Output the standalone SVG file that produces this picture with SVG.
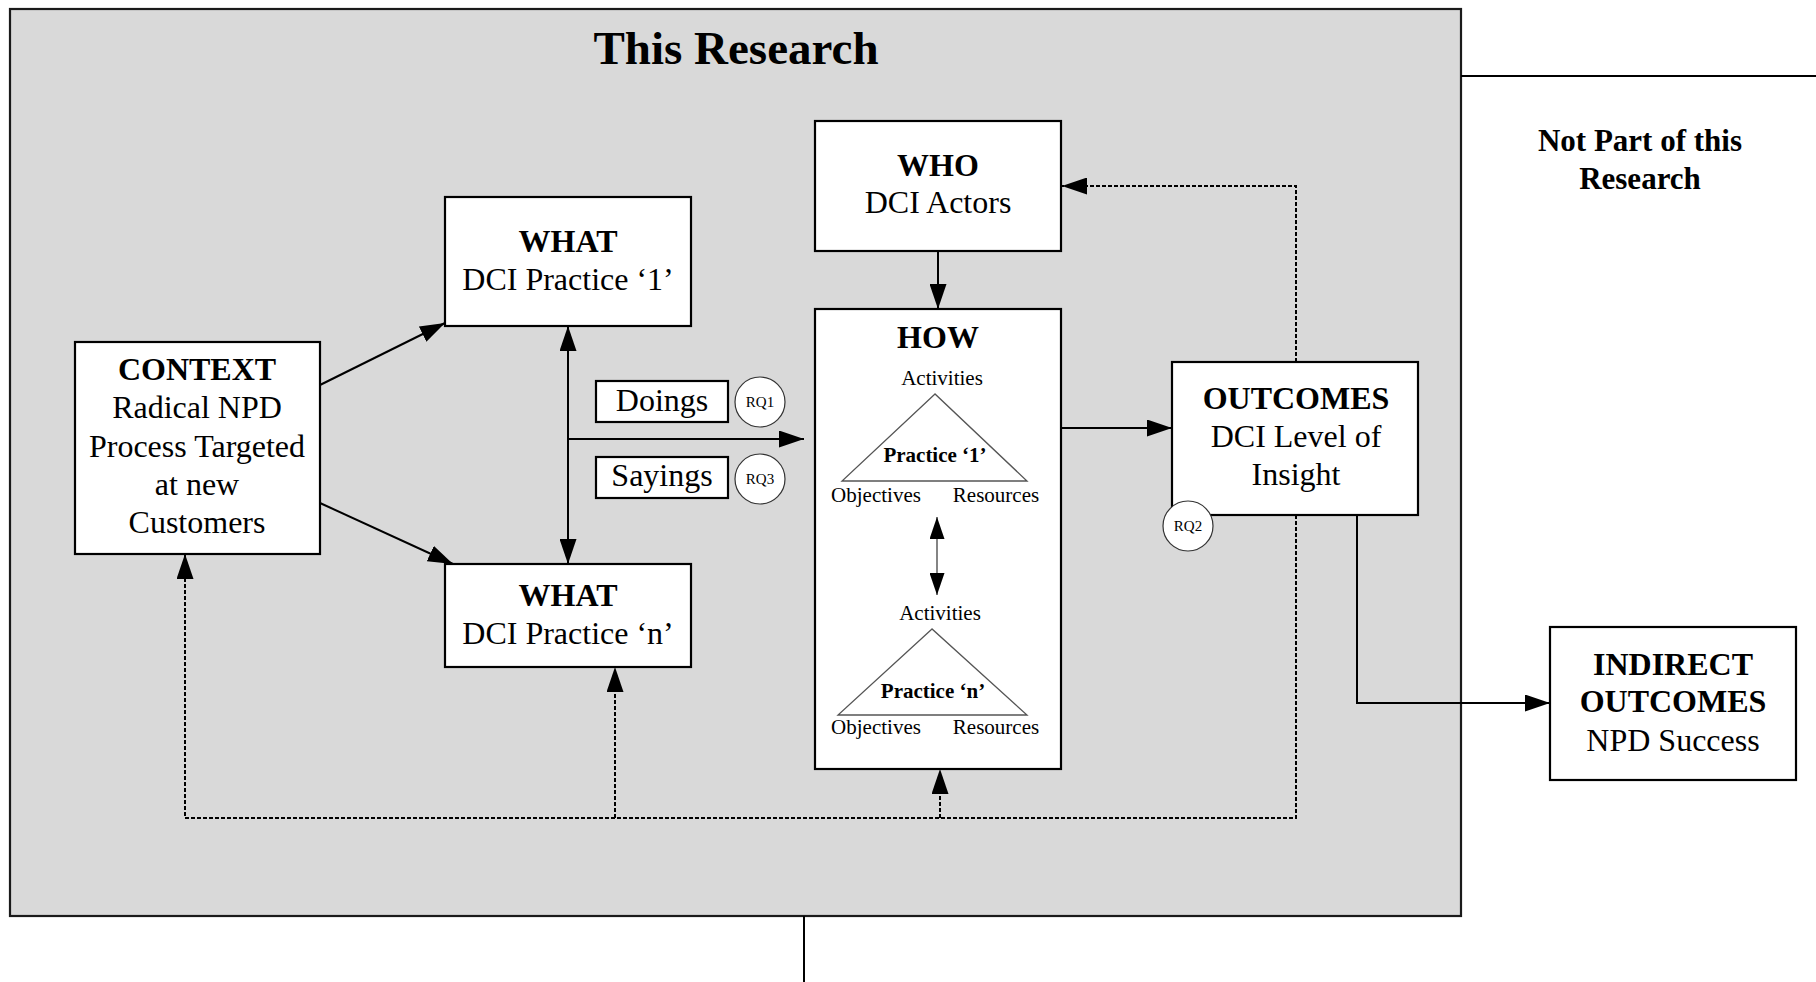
<svg xmlns="http://www.w3.org/2000/svg" width="1816" height="982" viewBox="0 0 1816 982">
  <style>
    .box { fill: #ffffff; stroke: #000000; stroke-width: 2.2; }
    .area { fill: #d9d9d9; stroke: #1a1a1a; stroke-width: 2.2; }
    .t { font-family: "Liberation Serif", "Times New Roman", serif; fill: #000000; text-anchor: middle; }
    .h { font-size: 32px; font-weight: bold; }
    .r { font-size: 32px; }
    .s { font-size: 21px; }
    .sb { font-size: 21px; font-weight: bold; }
    .rq { font-size: 15px; }
    .ln { fill: none; stroke: #000000; stroke-width: 2; }
    .dash { fill: none; stroke: #000000; stroke-width: 2; stroke-dasharray: 4 2; }
    .thin { fill: none; stroke: #333333; stroke-width: 1.2; }
    .tri { fill: none; stroke: #555555; stroke-width: 1.3; }
    .circ { fill: #ffffff; stroke: #333333; stroke-width: 1.2; }
  </style>
  <defs>
    <marker id="arr" viewBox="0 0 25 17" refX="25" refY="8.5" markerWidth="25" markerHeight="17" markerUnits="userSpaceOnUse" orient="auto-start-reverse">
      <path d="M0,0 L25,8.5 L0,17 Z" fill="#000000" stroke="none"/>
    </marker>
    <marker id="arrSm" viewBox="0 0 22 15" refX="22" refY="7.5" markerWidth="22" markerHeight="15" markerUnits="userSpaceOnUse" orient="auto-start-reverse">
      <path d="M0,0 L22,7.5 L0,15 Z" fill="#000000" stroke="none"/>
    </marker>
  </defs>

  <!-- study boundary -->
  <g id="this-research">
    <rect class="area" x="10" y="9" width="1451" height="907"/>
    <text class="t" x="736" y="64" font-size="47" font-weight="bold">This Research</text>
  </g>

  <!-- outside-scope partition -->
  <g id="not-part">
    <line class="ln" x1="1461" y1="76" x2="1816" y2="76"/>
    <line class="ln" x1="804" y1="916" x2="804" y2="982"/>
    <text class="t" x="1640" y="151" font-size="31" font-weight="bold">Not Part of this</text>
    <text class="t" x="1640" y="189" font-size="31" font-weight="bold">Research</text>
  </g>

  <!-- connectors -->
  <g id="connectors">
    <!-- context to practices -->
    <line class="ln" x1="320" y1="385" x2="445" y2="323" marker-end="url(#arr)"/>
    <line class="ln" x1="320" y1="503" x2="453" y2="564" marker-end="url(#arr)"/>
    <!-- between WHAT boxes -->
    <line class="ln" x1="568" y1="326" x2="568" y2="564" marker-start="url(#arr)" marker-end="url(#arr)"/>
    <line class="ln" x1="568" y1="439" x2="804" y2="439" marker-end="url(#arr)"/>
    <!-- WHO to HOW -->
    <line class="ln" x1="938" y1="251" x2="938" y2="309" marker-end="url(#arr)"/>
    <!-- HOW to OUTCOMES -->
    <line class="ln" x1="1061" y1="428" x2="1172" y2="428" marker-end="url(#arr)"/>
    <!-- OUTCOMES to INDIRECT OUTCOMES -->
    <polyline class="ln" points="1357,515 1357,703 1550,703" marker-end="url(#arr)"/>
    <!-- feedback to WHO -->
    <polyline class="dash" points="1296,362 1296,186 1062,186" marker-end="url(#arr)"/>
    <!-- feedback loop along the bottom -->
    <polyline class="dash" points="1296,515 1296,818 185,818 185,554" marker-end="url(#arr)"/>
    <line class="dash" x1="615" y1="818" x2="615" y2="667" marker-end="url(#arr)"/>
    <line class="dash" x1="940" y1="818" x2="940" y2="769" marker-end="url(#arr)"/>
  </g>

  <g id="context">
    <rect class="box" x="75" y="342" width="245" height="212"/>
    <text class="t h" x="197" y="380">CONTEXT</text>
    <text class="t r" x="197" y="418">Radical NPD</text>
    <text class="t r" x="197" y="457">Process Targeted</text>
    <text class="t r" x="197" y="495">at new</text>
    <text class="t r" x="197" y="533">Customers</text>
  </g>

  <g id="what-1">
    <rect class="box" x="445" y="197" width="246" height="129"/>
    <text class="t h" x="568" y="252">WHAT</text>
    <text class="t r" x="568" y="290">DCI Practice ‘1’</text>
  </g>

  <g id="what-n">
    <rect class="box" x="445" y="564" width="246" height="103"/>
    <text class="t h" x="568" y="606">WHAT</text>
    <text class="t r" x="568" y="644">DCI Practice ‘n’</text>
  </g>

  <g id="doings">
    <rect class="box" x="596" y="381" width="132" height="41"/>
    <text class="t r" x="662" y="411">Doings</text>
    <circle class="circ" cx="760" cy="402" r="25"/>
    <text class="t rq" x="760" y="407">RQ1</text>
  </g>

  <g id="sayings">
    <rect class="box" x="596" y="457" width="132" height="41"/>
    <text class="t r" x="662" y="486">Sayings</text>
    <circle class="circ" cx="760" cy="479" r="25"/>
    <text class="t rq" x="760" y="484">RQ3</text>
  </g>

  <g id="who">
    <rect class="box" x="815" y="121" width="246" height="130"/>
    <text class="t h" x="938" y="176">WHO</text>
    <text class="t r" x="938" y="213">DCI Actors</text>
  </g>

  <g id="how">
    <rect class="box" x="815" y="309" width="246" height="460"/>
    <text class="t h" x="938" y="348">HOW</text>
    <text class="t s" x="942" y="385">Activities</text>
    <polygon class="tri" points="935,394 842,481 1027,481"/>
    <text class="t sb" x="935" y="462">Practice ‘1’</text>
    <text class="t s" x="876" y="502">Objectives</text>
    <text class="t s" x="996" y="502">Resources</text>
    <line class="thin" x1="937" y1="517" x2="937" y2="595" marker-start="url(#arrSm)" marker-end="url(#arrSm)"/>
    <text class="t s" x="940" y="620">Activities</text>
    <polygon class="tri" points="932,629 838,715 1027,715"/>
    <text class="t sb" x="933" y="698">Practice ‘n’</text>
    <text class="t s" x="876" y="734">Objectives</text>
    <text class="t s" x="996" y="734">Resources</text>
  </g>

  <g id="outcomes">
    <rect class="box" x="1172" y="362" width="246" height="153"/>
    <text class="t h" x="1296" y="409">OUTCOMES</text>
    <text class="t r" x="1296" y="447">DCI Level of</text>
    <text class="t r" x="1296" y="485">Insight</text>
    <circle class="circ" cx="1188" cy="526" r="25"/>
    <text class="t rq" x="1188" y="531">RQ2</text>
  </g>

  <g id="indirect-outcomes">
    <rect class="box" x="1550" y="627" width="246" height="153"/>
    <text class="t h" x="1673" y="675">INDIRECT</text>
    <text class="t h" x="1673" y="712">OUTCOMES</text>
    <text class="t r" x="1673" y="751">NPD Success</text>
  </g>
</svg>
